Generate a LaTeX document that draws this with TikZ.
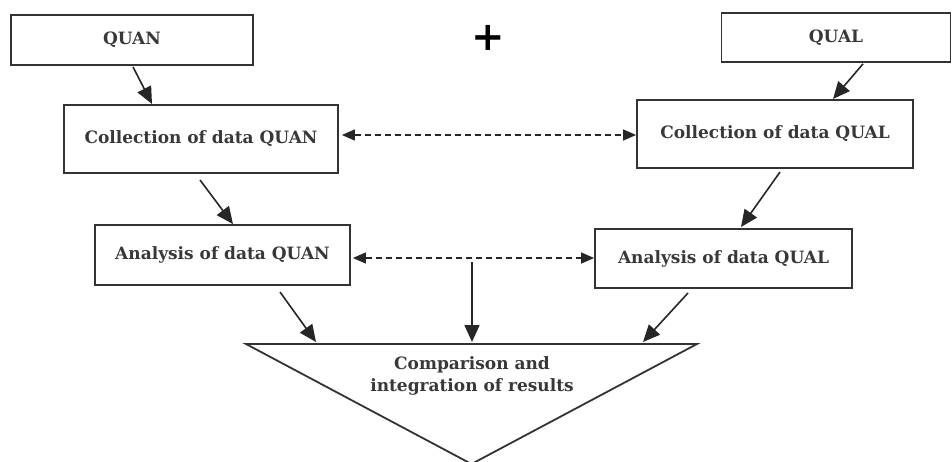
\documentclass[tikz,border=0pt]{standalone}
\usepackage{fontspec}
\setmainfont{DejaVu Serif}
\usetikzlibrary{arrows.meta}
\begin{document}
\begin{tikzpicture}[x=1pt,y=-1pt,
  lbl/.style={font=\fontsize{17}{22}\selectfont\bfseries,text=black!78},
  box/.style={draw=black!80,line width=1.8pt,inner sep=0pt,lbl},
  arr/.style={-{Triangle[length=17pt,width=15pt]},line width=1.6pt,black!85},
  darr/.style={{Triangle[length=13pt,width=11pt]}-{Triangle[length=13pt,width=11pt]},line width=1.3pt,dash pattern=on 6pt off 4pt,black!85}]
\useasboundingbox (0,0) rectangle (952,462);
\clip (0,0) rectangle (952,462);
\node[box,minimum width=242pt,minimum height=50pt] (quan) at (132,40) {QUAN};
\node[box,minimum width=229pt,minimum height=49pt] (qual) at (836,37.5) {QUAL};
\node[font=\fontsize{40}{40}\selectfont\bfseries] (plus) at (488,38) {+};
\node[box,minimum width=274pt,minimum height=68pt] (cquan) at (201,139) {Collection of data QUAN};
\node[box,minimum width=276pt,minimum height=68pt] (cqual) at (775,134) {Collection of data QUAL};
\node[box,minimum width=255pt,minimum height=60pt] (aquan) at (222.5,255) {Analysis of data QUAN};
\node[box,minimum width=257pt,minimum height=59pt] (aqual) at (723.5,258.5) {Analysis of data QUAL};
\coordinate (tl) at (246,344);
\coordinate (tr) at (697,344);
\coordinate (tb) at (471.5,464);
\draw[line width=1.8pt,black!80] (tl) -- (tr) -- (tb) -- cycle;
\node[align=center,lbl] (comp) at (472,376) {Comparison and\\integration of results};
\coordinate (t1) at (316,342);
\coordinate (t2) at (472,342);
\coordinate (t3) at (643,342);
\coordinate (dm) at (472,262);
\draw[arr] (quan.south)++(1,1) coordinate (q0) -- (152,104);
\draw[arr] (qual.south)++(27,1) coordinate (l0) -- (833,99);
\draw[arr] (200,180) coordinate (c0) -- (aquan.north -| 233,0);
\draw[arr] (780,172) coordinate (c1) -- (741,227);
\draw[arr] (280,292) coordinate (a0) -- (t1);
\draw[arr] (688,293) coordinate (a1) -- (t3);
\draw[arr] (dm) -- (t2);
\draw[darr] (cquan.east) ++(3,-4) coordinate (d0) -- (cqual.west |- d0);
\draw[darr] (aquan.east) ++(2,3) coordinate (d1) -- (aqual.west |- d1);
\end{tikzpicture}
\end{document}
